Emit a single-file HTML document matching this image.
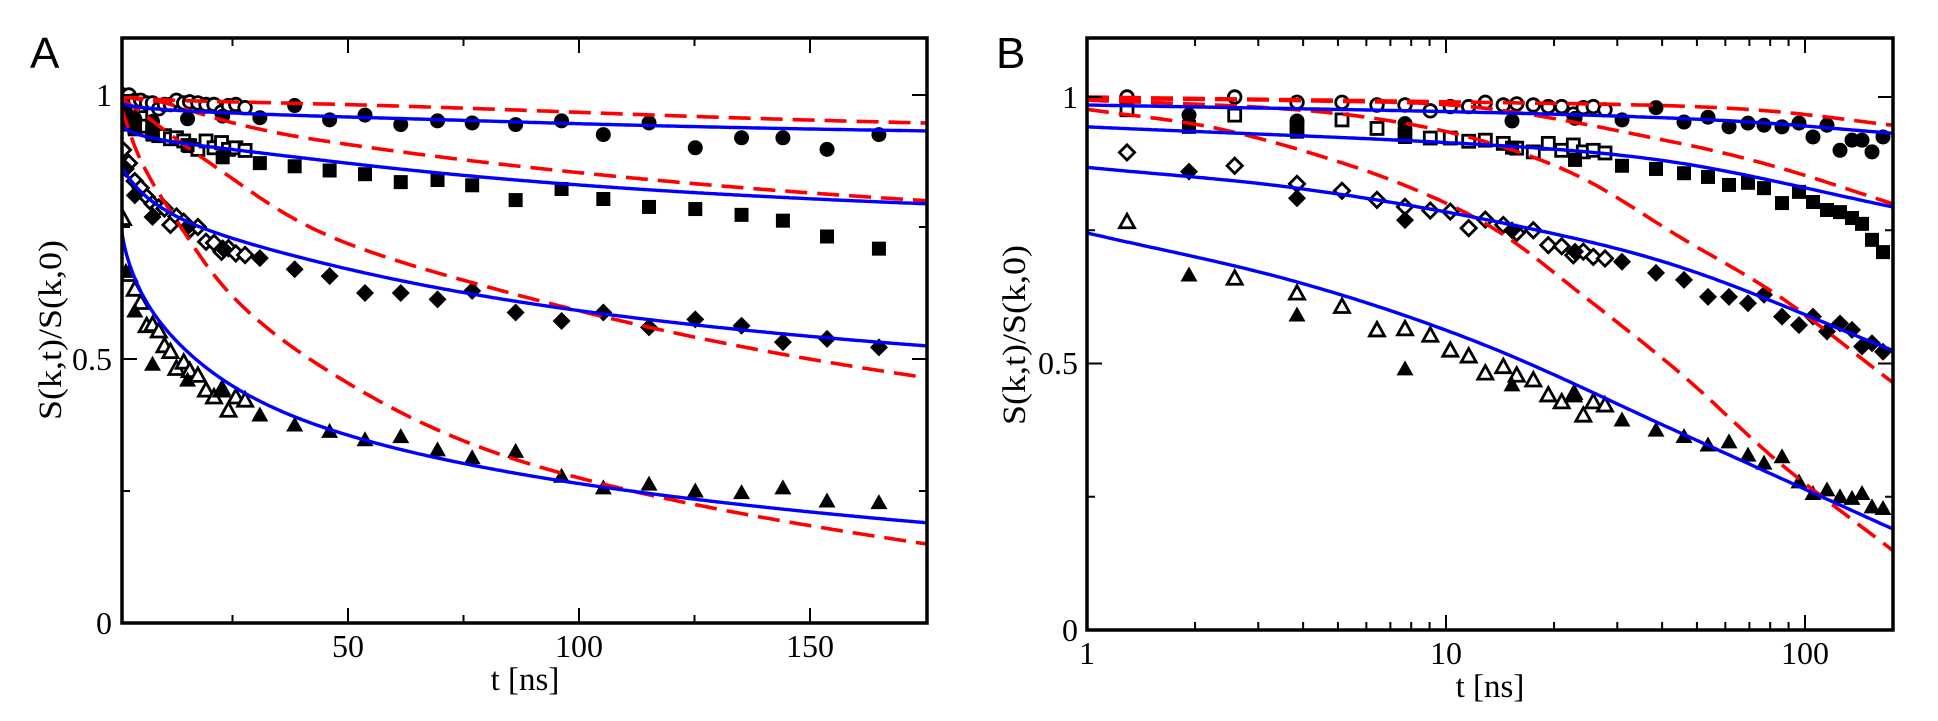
<!DOCTYPE html>
<html><head><meta charset="utf-8"><style>
html,body{margin:0;padding:0;background:#fff;}
svg{display:block;}
text{font-family:"Liberation Serif",serif;fill:#000;}
.lab{font-family:"Liberation Sans",sans-serif;}
</style></head><body>
<svg id="s" width="1938" height="721" viewBox="0 0 1938 721" xmlns="http://www.w3.org/2000/svg">
<defs>
<clipPath id="ca"><rect x="122" y="38" width="805" height="585"/></clipPath>
<clipPath id="cb"><rect x="1087" y="38" width="806" height="592"/></clipPath>
</defs>
<g id="ga" clip-path="url(#ca)"></g>
<g id="gb" clip-path="url(#cb)"></g>
<g id="ax"></g>
<text class="lab" x="30" y="68" font-size="44">A</text>
<text class="lab" x="996" y="68" font-size="44">B</text>
<text x="112" y="106" font-size="32" text-anchor="end">1</text>
<text x="112" y="370" font-size="32" text-anchor="end">0.5</text>
<text x="112" y="634" font-size="32" text-anchor="end">0</text>
<text x="348" y="657" font-size="32" text-anchor="middle">50</text>
<text x="579" y="657" font-size="32" text-anchor="middle">100</text>
<text x="810" y="657" font-size="32" text-anchor="middle">150</text>
<text x="525" y="690" font-size="33" text-anchor="middle">t [ns]</text>
<text transform="translate(61,330) rotate(-90)" font-size="33" text-anchor="middle" textLength="180" lengthAdjust="spacingAndGlyphs">S(k,t)/S(k,0)</text>
<text x="1078" y="108" font-size="32" text-anchor="end">1</text>
<text x="1078" y="374" font-size="32" text-anchor="end">0.5</text>
<text x="1078" y="641" font-size="32" text-anchor="end">0</text>
<text x="1087" y="664" font-size="32" text-anchor="middle">1</text>
<text x="1446" y="664" font-size="32" text-anchor="middle">10</text>
<text x="1805" y="664" font-size="32" text-anchor="middle">100</text>
<text x="1490" y="697" font-size="33" text-anchor="middle">t [ns]</text>
<text transform="translate(1025,335) rotate(-90)" font-size="33" text-anchor="middle" textLength="180" lengthAdjust="spacingAndGlyphs">S(k,t)/S(k,0)</text>
</svg>
<script>
var NS="http://www.w3.org/2000/svg";
function el(p,n,a){var e=document.createElementNS(NS,n);for(var k in a)e.setAttribute(k,a[k]);p.appendChild(e);return e;}
var ga=document.getElementById('ga'),gb=document.getElementById('gb'),ax=document.getElementById('ax');
var XA=function(t){return 117+4.62*t;},YA=function(v){return 623-528*v;};
var XB=function(t){return 1087+359*Math.log10(t);},YB=function(v){return 630-533*v;};
function interp(pts,x){
  var n=pts.length;
  if(x<=pts[0][0]){var s=(pts[1][1]-pts[0][1])/(pts[1][0]-pts[0][0]);return pts[0][1]+s*(x-pts[0][0]);}
  if(x>=pts[n-1][0]){var s2=(pts[n-1][1]-pts[n-2][1])/(pts[n-1][0]-pts[n-2][0]);return pts[n-1][1]+s2*(x-pts[n-1][0]);}
  var i=0;while(pts[i+1][0]<x)i++;
  var p0=pts[Math.max(i-1,0)],p1=pts[i],p2=pts[i+1],p3=pts[Math.min(i+2,n-1)];
  var h=p2[0]-p1[0],u=(x-p1[0])/h;
  var m1=(p2[1]-p0[1])/(p2[0]-p0[0])*h, m2=(p3[1]-p1[1])/(p3[0]-p1[0])*h;
  var u2=u*u,u3=u2*u;
  return (2*u3-3*u2+1)*p1[1]+(u3-2*u2+u)*m1+(-2*u3+3*u2)*p2[1]+(u3-u2)*m2;
}
var blue=[
 [[0,.985],[1.17,.97],[1.8,.955],[2.243,.932]],
 [[0,.944],[1.17,.908],[1.652,.876],[2.243,.794]],
 [[0,.868],[0.585,.829],[1.17,.762],[1.652,.681],[2.243,.525]],
 [[0,.745],[0.585,.653],[1.095,.538],[1.652,.37],[2.243,.19]]];
var red=[
 [[0,1.0],[1.1,.99],[1.65,.983],[1.93,.972],[2.243,.947]],
 [[0,.997],[0.6,.993],[1.095,.98],[1.652,.913],[1.93,.867],[2.243,.80]],
 [[0,.994],[0.5,.98],[0.8,.96],[1.095,.919],[1.373,.85],[1.652,.737],[1.93,.625],[2.243,.465]],
 [[0,.977],[0.37,.94],[0.744,.869],[1.003,.80],[1.17,.737],[1.373,.632],[1.652,.482],[1.93,.313],[2.243,.15]]];
function pathA(pts){var d='';for(var t=1.0;t<=176;t+=(t<10?0.1:0.5)){var v=interp(pts,Math.log10(t));d+=(d?'L':'M')+XA(t).toFixed(1)+' '+YA(v).toFixed(1);}return d;}
function pathB(pts){var d='';for(var l=0;l<=2.25;l+=0.01){var v=interp(pts,l);d+=(d?'L':'M')+XB(Math.pow(10,l)).toFixed(1)+' '+YB(v).toFixed(1);}return d;}
var openX=[1127,1234.7,1297,1342,1377,1405,1430.3,1450.3,1468.7,1485.3,1503.3,1516.7,1533.3,1548.3,1561.7,1573.3,1583.3,1593.3,1605];
var oC=[1.0,1.0,.99,.99,.985,.985,.974,.982,.982,.99,.985,.987,.985,.982,.982,.968,.98,.982,.976];
var oS=[.976,.966,.94,.957,.941,.93,.923,.923,.917,.919,.913,.904,.897,.913,.9,.91,.897,.9,.895];
var oD=[.896,.871,.837,.824,.807,.794,.787,.785,.754,.77,.76,.745,.75,.722,.72,.703,.71,.7,.697];
var oT=[.766,.66,.632,.607,.563,.565,.553,.525,.514,.482,.494,.478,.469,.441,.428,.441,.403,.428,.422];
var fX=[1189,1297,1405,1512,1575,1622,1656,1684,1708,1729,1748,1764,1782,1799,1813,1827,1840,1852,1862,1872,1883];
var fC=[.966,.955,.95,.955,.96,.957,.98,.953,.962,.944,.951,.947,.944,.951,.925,.947,.90,.919,.919,.897,.925];
var fS=[.944,.935,.925,.905,.882,.871,.865,.857,.85,.835,.839,.829,.801,.822,.803,.788,.784,.773,.762,.732,.709];
var fD=[.86,.81,.769,.75,.71,.691,.67,.657,.625,.625,.613,.629,.588,.572,.588,.56,.575,.563,.532,.538,.522];
var fT=[.666,.591,.49,.46,.444,.394,.375,.363,.347,.353,.328,.313,.325,.278,.256,.263,.25,.247,.256,.231,.228];
function mk(g,shape,x,y,filled){
  var a=filled?{fill:'#000'}:{fill:'#fff',stroke:'#000','stroke-width':2.8};
  if(shape=='c'){a.cx=x;a.cy=y;a.r=filled?7.5:6.3;el(g,'circle',a);}
  else if(shape=='s'){var h=filled?7:6;a.x=x-h;a.y=y-h;a.width=2*h;a.height=2*h;el(g,'rect',a);}
  else if(shape=='d'){var r=filled?9:7.6;a.points=[x,y-r,x+r,y,x,y+r,x-r,y].join(' ');el(g,'polygon',a);}
  else {var w=filled?8.5:7.5,h1=filled?8.5:7.5,h2=filled?6.5:6;a.points=[x,y-h1,x+w,y+h2,x-w,y+h2].join(' ');el(g,'polygon',a);}
}
function drawPanel(g,X,Y,pathF){
  var sets=[['c',oC,openX,0],['s',oS,openX,0],['d',oD,openX,0],['t',oT,openX,0],['c',fC,fX,1],['s',fS,fX,1],['d',fD,fX,1],['t',fT,fX,1]];
  sets.forEach(function(s){
    for(var i=0;i<s[1].length;i++){var t=Math.pow(10,(s[2][i]-1087)/359);mk(g,s[0],X(t),Y(s[1][i]),s[3]);}
  });
  red.forEach(function(p){el(g,'path',{d:pathF(p),fill:'none',stroke:'#ff0000','stroke-width':3.6,'stroke-dasharray':'22,10'});});
  blue.forEach(function(p){el(g,'path',{d:pathF(p),fill:'none',stroke:'#0000ff','stroke-width':3.4});});
}
drawPanel(ga,XA,YA,pathA);
drawPanel(gb,XB,YB,pathB);
function line(x1,y1,x2,y2,w){el(ax,'line',{x1:x1,y1:y1,x2:x2,y2:y2,stroke:'#000','stroke-width':w||2});}
el(ax,'rect',{x:122,y:38,width:805,height:585,fill:'none',stroke:'#000','stroke-width':3.5});
el(ax,'rect',{x:1087,y:38,width:806,height:592,fill:'none',stroke:'#000','stroke-width':3.5});
[[25,8],[50,15],[75,8],[100,15],[125,8],[150,15]].forEach(function(k){var x=XA(k[0]);line(x,623,x,623-k[1]);line(x,38,x,38+k[1]);});
[[0.25,8],[0.5,15],[0.75,8],[1,15]].forEach(function(k){var y=YA(k[0]);line(122,y,122+k[1],y);line(927,y,927-k[1],y);});
for(var dec=1;dec<=100;dec*=10){for(var m=1;m<10;m++){var t=dec*m;if(t>176)break;var x=XB(t);var L=(m==1)?15:8;if(x<1090)continue;line(x,630,x,630-L);line(x,38,x,38+L);}}
[[0.25,8],[0.5,15],[0.75,8],[1,15]].forEach(function(k){var y=YB(k[0]);line(1087,y,1087+k[1],y);line(1893,y,1893-k[1],y);});
</script>
</body></html>
